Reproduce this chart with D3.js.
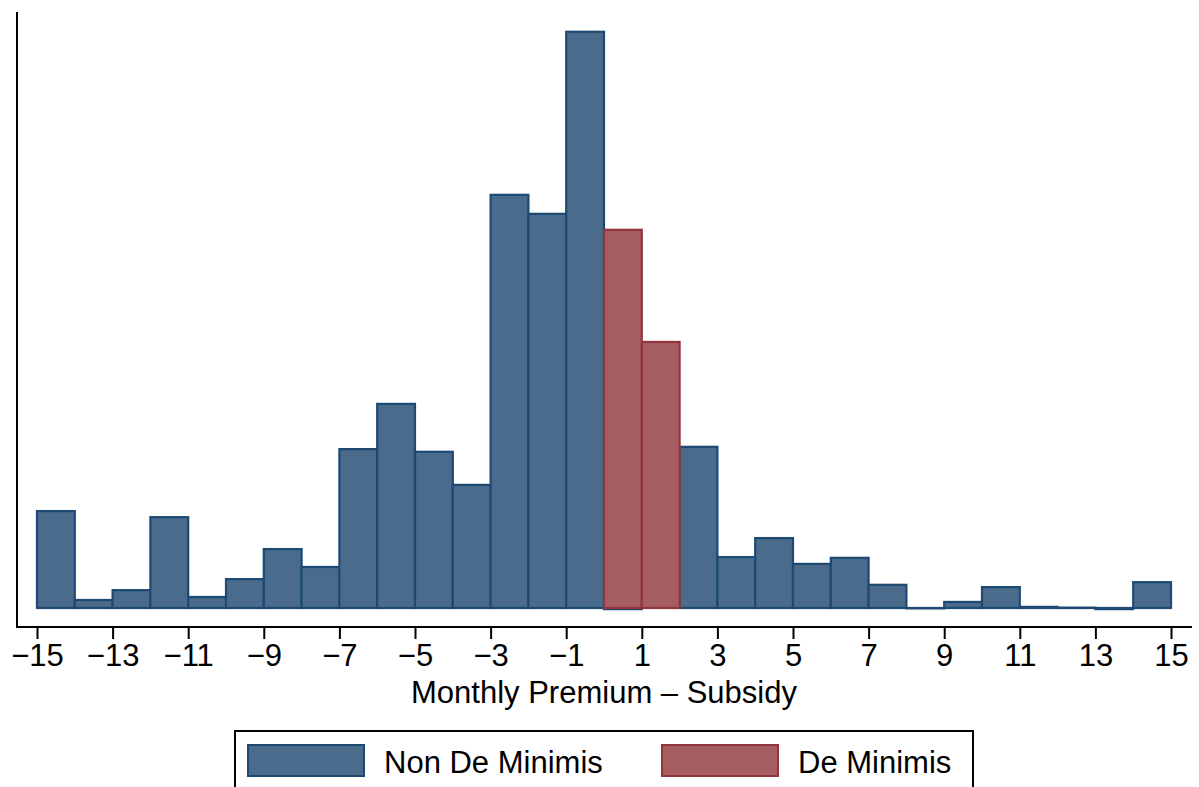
<!DOCTYPE html>
<html>
<head>
<meta charset="utf-8">
<script src="https://cdn.jsdelivr.net/npm/d3@7"></script>
<style>
  body { margin: 0; background: #fff; }
  svg { display: block; font-family: "Liberation Sans", Arial, sans-serif; }
</style>
</head>
<body>
<svg id="chart" width="1199" height="787"></svg>
<script>
// Bin left edges (width 1) from -15 to 14
const binStarts = d3.range(-15, 15);
// Non De Minimis bar heights (percent)
const nonDeMinimis = [2.55, 0.21, 0.47, 2.39, 0.29, 0.76, 1.55, 1.08, 4.18, 5.37,
                      4.11, 3.24, 10.87, 10.37, 15.16, -0.03, null, 4.24, 1.34, 1.84,
                      1.16, 1.32, 0.61, 0.0, 0.16, 0.55, 0.03, 0.01, -0.03, 0.68];
// De Minimis bars (bins 0 and 1)
const deMinimisBins = [0, 1];
const deMinimis = [9.95, 7.0];
const xTicks = d3.range(-15, 16, 2);
const legendLabels = ["Non De Minimis", "De Minimis"];
const xTitle = "Monthly Premium \u2013 Subsidy";

const colors = {
  blueFill: "#4a6b8b", blueStroke: "#1d4a73",
  redFill: "#a65d61", redStroke: "#90353c"
};
const FS = 31;

const svg = d3.select("#chart");
const x = d3.scaleLinear().domain([-15, 15]).range([37, 1171]);
const y = d3.scaleLinear().domain([0, 15.68]).range([608, 12]);

function drawBars(data, fill, stroke) {
  svg.append("g").selectAll("rect")
    .data(data.filter(d => d.v !== null))
    .join("rect")
    .attr("x", d => x(d.b))
    .attr("width", d => x(d.b + 1) - x(d.b))
    .attr("y", d => Math.min(y(d.v), y(0)))
    .attr("height", d => Math.max(0.4, Math.abs(y(d.v) - y(0))))
    .attr("fill", fill)
    .attr("stroke", stroke)
    .attr("stroke-width", 2.2);
}

drawBars(binStarts.map((b, i) => ({b, v: nonDeMinimis[i]})), colors.blueFill, colors.blueStroke);
drawBars(deMinimisBins.map((b, i) => ({b, v: deMinimis[i]})), colors.redFill, colors.redStroke);

// Y axis line (no ticks)
svg.append("line").attr("x1", 17).attr("x2", 17).attr("y1", 12).attr("y2", 627.5)
  .attr("stroke", "#000").attr("stroke-width", 2);

// X axis
const xAxis = d3.axisBottom(x).tickValues(xTicks).tickSize(12).tickPadding(5)
  .tickFormat(d => (d < 0 ? "\u2212" + Math.abs(d) : String(d)));
const gx = svg.append("g").attr("transform", "translate(0,627)").call(xAxis);
gx.select(".domain").remove();
gx.append("line").attr("x1", 16).attr("x2", 1192).attr("y1", 0).attr("y2", 0)
  .attr("stroke", "#000").attr("stroke-width", 2);
gx.selectAll(".tick line").attr("stroke", "#000").attr("stroke-width", 2);
gx.selectAll(".tick text").attr("fill", "#000").attr("font-size", FS)
  .attr("font-family", "Liberation Sans, Arial, sans-serif");

svg.append("text").attr("x", 604).attr("y", 703).attr("text-anchor", "middle")
  .attr("font-size", FS).attr("fill", "#000").text(xTitle);

// Legend
const lg = svg.append("g");
lg.append("rect").attr("x", 235).attr("y", 731).attr("width", 738).attr("height", 120)
  .attr("fill", "none").attr("stroke", "#000").attr("stroke-width", 2);
const keys = [
  {label: legendLabels[0], fill: colors.blueFill, stroke: colors.blueStroke, kx: 248, tx: 384},
  {label: legendLabels[1], fill: colors.redFill, stroke: colors.redStroke, kx: 662, tx: 798}
];
keys.forEach(k => {
  lg.append("rect").attr("x", k.kx).attr("y", 745).attr("width", 116).attr("height", 31)
    .attr("fill", k.fill).attr("stroke", k.stroke).attr("stroke-width", 2);
  lg.append("text").attr("x", k.tx).attr("y", 773).attr("font-size", FS)
    .attr("fill", "#000").text(k.label);
});
</script>
</body>
</html>
